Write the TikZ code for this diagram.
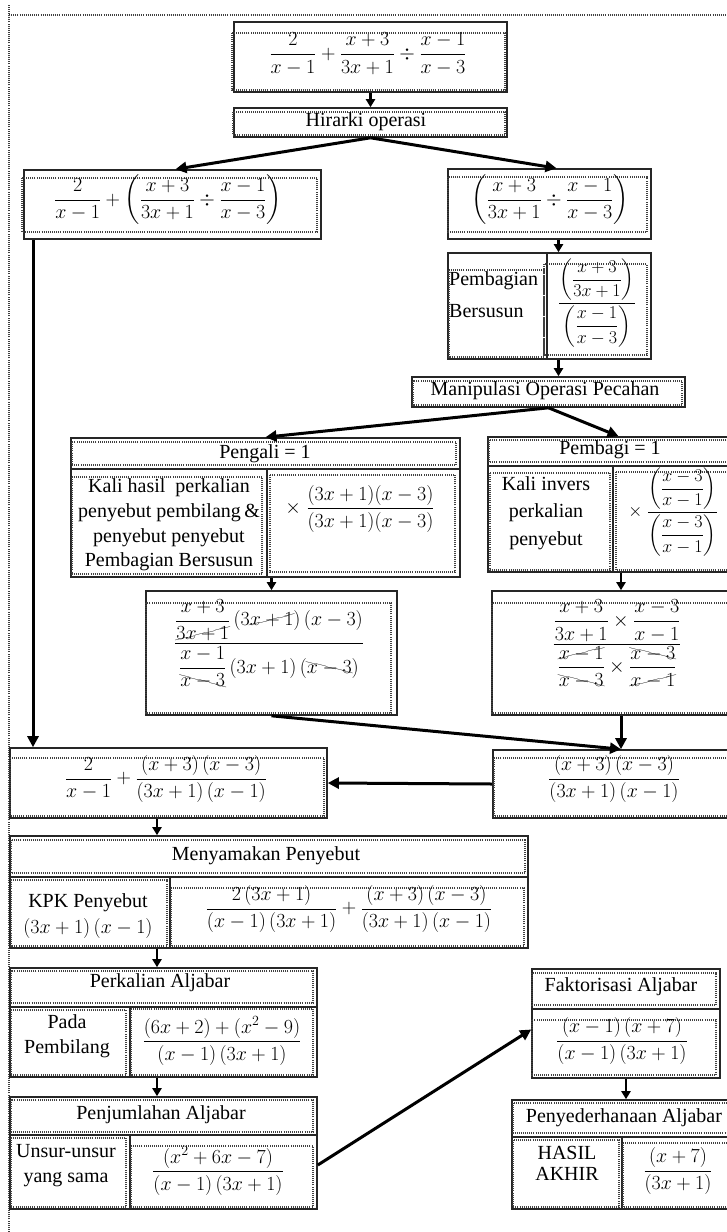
\RequirePackage{fix-cm}
\documentclass[tikz,border=0pt]{standalone}
\usepackage{amsmath}
\usepackage{cancel}
\usepackage{fontspec}
\setmainfont{Liberation Serif}
\usetikzlibrary{fit,arrows.meta}

\tikzset{
  boxframe/.style={draw=black!85, line width=1.6pt, inner sep=0pt},
  sepline/.style={draw=black!85, line width=1.6pt},
  dotline/.style={draw=black!75, line width=1.2pt, dash pattern=on 1pt off 1.1pt},
  arr/.style={-{Triangle[length=8pt,width=9pt]}, line width=2.2pt, draw=black},
  bigarr/.style={-{Triangle[length=11pt,width=11pt]}, line width=3pt, draw=black},
  txt/.style={inner sep=0pt, align=center, font=\fontsize{20}{25}\selectfont},
  mth/.style={inner sep=0pt},
}
% dotted inner frame of a cell
\newcommand\dotrect[2]{\draw[dotline] #1 rectangle #2;}

\begin{document}
\begin{tikzpicture}[x=1pt,y=-1pt,font=\fontsize{20}{24}\selectfont]
\useasboundingbox (0,0) rectangle (727,1232);
\clip (0,0) rectangle (727,1232);

% page frame
\draw[dotline] (9,1232) -- (9,4);
\draw[dotline, line width=2pt] (9,15) -- (727,15);

% helper columns for vertical connectors
\coordinate (lx) at (157,0);
\coordinate (bx) at (33,0);
\coordinate (uk) at (621,0);

% starting expression
\node[boxframe, fit={(234,22) (507,92)}] (A) {};
\dotrect{(232,33)}{(505,90)}
\node[mth] (Aeq) at (368,54) {$\dfrac{2}{x-1}+\dfrac{x+3}{3x+1}\div\dfrac{x-1}{x-3}$};

% order of operations
\node[boxframe, fit={(234,108) (507,137)}] (H) {};
\dotrect{(233,112)}{(505,135)}
\node[txt] (Ht) at (366,122) {Hirarki operasi};

% left branch
\node[boxframe, fit={(24,170) (321,239)}] (B) {};
\dotrect{(22,178)}{(317,232)}
\node[mth] (Beq) at (168,200) {$\dfrac{2}{x-1}+\left(\dfrac{x+3}{3x+1}\div\dfrac{x-1}{x-3}\right)$};

% right branch
\node[boxframe, fit={(448,169) (651,239)}] (C) {};
\dotrect{(448,177)}{(647,232)}
\node[mth] (Ceq) at (550,200) {$\left(\dfrac{x+3}{3x+1}\div\dfrac{x-1}{x-3}\right)$};

% complex fraction
\node[boxframe, fit={(448,253) (651,359)}] (D) {};
\draw[sepline] (547,253) -- (547,359);
\dotrect{(449,270)}{(544,357)}
\dotrect{(544,264)}{(647,355)}
\node[txt, anchor=west] (Dt1) at (449,281) {Pembagian};
\node[txt, anchor=west] (Dt2) at (449,311) {Bersusun};
\node[mth, font=\fontsize{18}{21}\selectfont] (Deq) at (597,303) {$\dfrac{\left(\dfrac{x+3}{3x+1}\right)}{\left(\dfrac{x-1}{x-3}\right)}$};

% manipulation
\node[boxframe, fit={(412,377) (685,407)}] (E) {};
\dotrect{(413,381)}{(682,405)}
\node[txt] (Et) at (545,391) {Manipulasi Operasi Pecahan};

% multiplier = 1
\node[boxframe, fit={(71,438) (460,577)}] (F) {};
\draw[sepline] (71,469) -- (460,469);
\draw[sepline] (267,469) -- (267,577);
\dotrect{(72,442)}{(456,465)}
\dotrect{(72,477)}{(262,574)}
\dotrect{(270,475)}{(455,572)}
\node[txt] (Ft) at (265,454) {Pengali = 1};
\node[txt, font=\fontsize{20}{24.7}\selectfont] (Fl) at (169,525) {Kali hasil~ perkalian\\penyebut pembilang\,\&\\penyebut penyebut\\Pembagian Bersusun};
\node[mth] (Fr) at (360,509) {$\times\;\dfrac{(3x+1)(x-3)}{(3x+1)(x-3)}$};

% cancelled product (left)
\node[boxframe, fit={(146,591) (397,715)}] (G) {};
\dotrect{(146,603)}{(391,713)}
\node[mth] (Geq) at (269,644) {$\dfrac{\dfrac{x+3}{\cancel{3x+1}}\,(3\cancel{x+1})\,(x-3)}{\dfrac{x-1}{\bcancel{x-3}}\,(3x+1)\,(\bcancel{x-3})}$};

% divisor = 1
\node[boxframe, fit={(488,437) (735,572)}] (T) {};
\draw[sepline] (488,466) -- (735,466);
\draw[sepline] (613,466) -- (613,572);
\dotrect{(489,440)}{(740,462)}
\dotrect{(490,473)}{(610,570)}
\dotrect{(616,472)}{(740,570)}
\node[txt] (Tt) at (610,450) {Pembagi = 1};
\node[txt, font=\fontsize{20}{27.5}\selectfont] (Tl) at (546,513) {Kali invers\\perkalian\\penyebut};
\node[mth, font=\fontsize{18}{21}\selectfont] (Tr) at (673,512) {$\times\;\dfrac{\left(\dfrac{x-3}{x-1}\right)}{\left(\dfrac{x-3}{x-1}\right)}$};

% cancelled product (right)
\node[boxframe, fit={(492,591) (744,715)}] (U) {};
\dotrect{(492,603)}{(740,713)}
\node[mth] (Ueq) at (617,644) {$\dfrac{\dfrac{x+3}{3x+1}\times\dfrac{x-3}{x-1}}{\dfrac{\cancel{x-1}}{\bcancel{x-3}}\times\dfrac{\bcancel{x-3}}{\cancel{x-1}}}$};

% simplified quotient
\node[boxframe, fit={(493,750) (735,818)}] (K) {};
\dotrect{(494,758)}{(740,816)}
\node[mth] (Keq) at (614,779) {$\dfrac{(x+3)\,(x-3)}{(3x+1)\,(x-1)}$};

% sum to evaluate
\node[boxframe, fit={(10,748) (327,818)}] (L) {};
\dotrect{(10,758)}{(324,816)}
\node[mth] (Leq) at (166,779) {$\dfrac{2}{x-1}+\dfrac{(x+3)\,(x-3)}{(3x+1)\,(x-1)}$};

% common denominator
\node[boxframe, fit={(10,836) (528,948)}] (M) {};
\draw[sepline] (10,877) -- (528,877);
\draw[sepline] (170,877) -- (170,948);
\dotrect{(11,840)}{(525,873)}
\dotrect{(11,880)}{(167,946)}
\dotrect{(171,888)}{(524,946)}
\node[txt] (Mt) at (266,856) {Menyamakan Penyebut};
\node[txt] (Ml1) at (88,903) {KPK Penyebut};
\node[mth] (Ml2) at (88,928) {$(3x+1)\,(x-1)$};
\node[mth] (Mr) at (349,909) {$\dfrac{2\,(3x+1)}{(x-1)\,(3x+1)}+\dfrac{(x+3)\,(x-3)}{(3x+1)\,(x-1)}$};

% algebraic multiplication
\node[boxframe, fit={(10,968) (317,1077)}] (P) {};
\draw[sepline] (10,1007) -- (317,1007);
\draw[sepline] (130,1007) -- (130,1077);
\dotrect{(11,971)}{(313,1003)}
\dotrect{(11,1010)}{(126,1075)}
\dotrect{(131,1009)}{(313,1075)}
\node[txt] (Pt) at (160,983) {Perkalian Aljabar};
\node[txt] (Pl) at (67,1036) {Pada\\Pembilang};
\node[mth] (Pr) at (222,1041) {$\dfrac{(6x+2)+(x^2-9)}{(x-1)\,(3x+1)}$};

% algebraic addition
\node[boxframe, fit={(10,1097) (317,1209)}] (Q) {};
\draw[sepline] (10,1135) -- (317,1135);
\draw[sepline] (130,1135) -- (130,1209);
\dotrect{(11,1100)}{(313,1132)}
\dotrect{(11,1138)}{(126,1207)}
\dotrect{(131,1146)}{(313,1207)}
\node[txt] (Qt) at (161,1115) {Penjumlahan Aljabar};
\node[txt] (Ql) at (66,1166) {Unsur-unsur\\yang sama};
\node[mth] (Qr) at (218,1171) {$\dfrac{(x^2+6x-7)}{(x-1)\,(3x+1)}$};

% factorisation
\node[boxframe, fit={(532,969) (720,1078)}] (R) {};
\draw[sepline] (532,1009) -- (720,1009);
\dotrect{(532,973)}{(716,1005)}
\dotrect{(532,1020)}{(716,1075)}
\node[txt] (Rt) at (621,987) {Faktorisasi Aljabar};
\node[mth] (Rr) at (622,1041) {$\dfrac{(x-1)\,(x+7)}{(x-1)\,(3x+1)}$};

% simplification and final result
\node[boxframe, fit={(512,1100) (736,1209)}] (S) {};
\draw[sepline] (512,1137) -- (736,1137);
\draw[sepline] (622,1137) -- (622,1209);
\dotrect{(513,1103)}{(740,1133)}
\dotrect{(513,1140)}{(619,1207)}
\dotrect{(623,1143)}{(740,1207)}
\node[txt] (St) at (624,1118) {Penyederhanaan Aljabar};
\node[txt, font=\fontsize{20}{21}\selectfont] (Sl) at (567,1163) {HASIL\\AKHIR};
\node[mth] (Sr) at (678,1171) {$\dfrac{(x+7)}{(3x+1)}$};

% connectors
\draw[arr] (A.south) -- (H.north);
\draw[bigarr] (H.south) -- ([xshift=3pt]B.north);
\draw[bigarr] (H.south) -- ([xshift=7pt]C.north);
\draw[arr] ([xshift=9pt]C.south) -- ([xshift=9pt]D.north);
\draw[arr] ([xshift=9pt]D.south) -- ([xshift=10pt]E.north);
\draw[bigarr] (E.south) -- (F.north);
\draw[bigarr] (E.south) -- ([xshift=7pt]T.north);
\draw[arr] (G.north |- F.south) -- (G.north);
\draw[arr] (T.south -| uk) -- (U.north -| uk);
\draw[bigarr] (G.south) -- (K.north -| uk);
\draw[bigarr] (U.south -| uk) -- (K.north -| uk);
\draw[bigarr] (K.west) -- (L.east);
\draw[bigarr] (B.south -| bx) -- (L.north -| bx);
\draw[arr] (L.south -| lx) -- (M.north -| lx);
\draw[arr] (M.south -| lx) -- (P.north -| lx);
\draw[arr] (P.south -| lx) -- (Q.north -| lx);
\draw[bigarr] ([yshift=-12pt]Q.east) -- ([yshift=-6pt]R.west);
\draw[arr] (R.south) -- (R.south |- S.north);
\end{tikzpicture}
\end{document}
